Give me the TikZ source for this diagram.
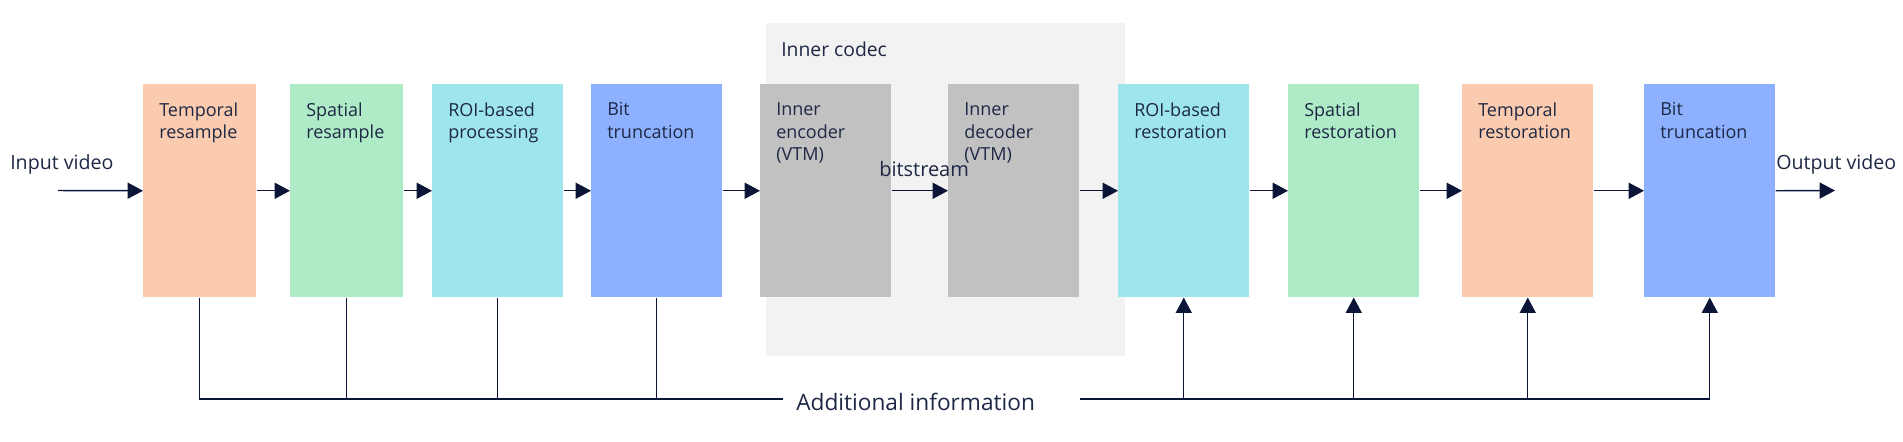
\documentclass[tikz,border=0pt]{standalone}
\usepackage{fontspec}
\setmainfont{Open Sans}
\usepackage{xcolor}
\usetikzlibrary{arrows.meta,calc}

\definecolor{peach}{HTML}{FACBAE}
\definecolor{mint}{HTML}{B0EBC8}
\definecolor{aqua}{HTML}{9EE6EC}
\definecolor{cornflower}{HTML}{8DB1FF}
\definecolor{codecgray}{HTML}{C1C1C1}
\definecolor{codecbg}{HTML}{F2F2F2}
\definecolor{navy}{HTML}{0B1538}
\definecolor{ink}{HTML}{1E2845}

\tikzset{
  stage/.style={rectangle, inner sep=0pt, anchor=north west, minimum width=131*0.75pt, minimum height=213*0.75pt},
  narrow/.style={minimum width=113*0.75pt},
  tag/.style={anchor=north west, align=left, inner sep=0pt, xshift=12pt, yshift=-13.7pt, font=\fontsize{13.5}{17}\selectfont, text=ink},
  flow/.style={-{Triangle[length=11.5pt,width=12pt]}, line width=1.1pt, draw=navy},
  info/.style={line width=0.8pt, draw=navy},
}

\begin{document}
\begin{tikzpicture}[x=0.75pt, y=-0.75pt]
\useasboundingbox (0,0) rectangle (1903,442);

\node [rectangle, inner sep=0pt, anchor=north west, fill=codecbg, minimum width=359*0.75pt, minimum height=333*0.75pt] (codec) at (766,23) {};
\node [anchor=base west, inner sep=0pt, font=\fontsize{14.5}{17}\selectfont, text=ink] (codectitle) at (781,57) {Inner codec};

\node [stage, narrow, fill=peach, label={[tag]north west:Temporal\\resample}] (tres) at (143,84) {};
\node [stage, narrow, fill=mint, label={[tag]north west:Spatial\\resample}] (sres) at (290,84) {};
\node [stage, fill=aqua, label={[tag]north west:ROI-based\\processing}] (roi) at (432,84) {};
\node [stage, fill=cornflower, label={[tag]north west:Bit\\truncation}] (bit) at (591,84) {};
\node [stage, fill=codecgray, label={[tag]north west:Inner\\encoder\\(VTM)}] (enc) at (760,84) {};
\node [stage, fill=codecgray, label={[tag]north west:Inner\\decoder\\(VTM)}] (dec) at (948,84) {};
\node [stage, fill=aqua, label={[tag]north west:ROI-based\\restoration}] (rres) at (1118,84) {};
\node [stage, fill=mint, label={[tag]north west:Spatial\\restoration}] (srest) at (1288,84) {};
\node [stage, fill=peach, label={[tag]north west:Temporal\\restoration}] (trest) at (1462,84) {};
\node [stage, fill=cornflower, label={[tag]north west:Bit\\truncation}] (bittwo) at (1644,84) {};

\node [anchor=base west, inner sep=0pt, font=\fontsize{14.7}{17}\selectfont, text=ink] (invideo) at (10,170) {Input video};
\node [anchor=base west, inner sep=0pt, font=\fontsize{14.7}{17}\selectfont, text=ink] (outvideo) at (1776,170) {Output video};
\node [anchor=base west, inner sep=0pt, font=\fontsize{15}{17}\selectfont, text=ink] (bitstream) at (879,177) {bitstream};
\node [anchor=base west, inner sep=0pt, font=\fontsize{17}{20}\selectfont, text=ink] (addinfo) at (796,410) {Additional information};

\coordinate (vin) at (58,190.5);
\coordinate (vout) at (1835,190.5);
\coordinate (infoL) at (783,399);
\coordinate (infoR) at (1080,399);

\draw [flow] (vin) -- (tres.west);
\draw [flow] (tres.east) -- (sres.west);
\draw [flow] (sres.east) -- (roi.west);
\draw [flow] (roi.east) -- (bit.west);
\draw [flow] (bit.east) -- (enc.west);
\draw [flow] (enc.east) -- (dec.west);
\draw [flow] (dec.east) -- (rres.west);
\draw [flow] (rres.east) -- (srest.west);
\draw [flow] (srest.east) -- (trest.west);
\draw [flow] (trest.east) -- (bittwo.west);
\draw [flow] (bittwo.east) -- (vout);

\draw [info] (tres.south) |- (infoL);
\draw [info] (sres.south) |- (infoL);
\draw [info] (roi.south) |- (infoL);
\draw [info] (bit.south) |- (infoL);
\draw [info, line width=2.2pt] (roi.south |- infoL) -- (infoL);

\draw [info, flow, line width=0.8pt] (infoR) -| (rres.south);
\draw [info, flow, line width=0.8pt] (infoR) -| (srest.south);
\draw [info, flow, line width=0.8pt] (infoR) -| (trest.south);
\draw [info, flow, line width=0.8pt] (infoR) -| (bittwo.south);
\draw [info, line width=2.2pt] (infoR) -- (rres.south |- infoR);

\end{tikzpicture}
\end{document}
